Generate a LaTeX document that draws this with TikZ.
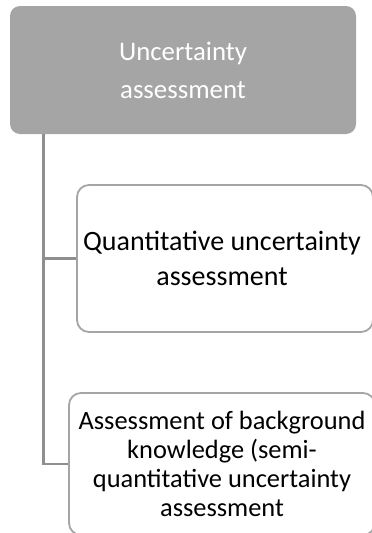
\documentclass[tikz,border=0pt]{standalone}
\usepackage{fontspec}
\setmainfont{Carlito}
\definecolor{boxgray}{HTML}{A5A5A5}
\definecolor{linegray}{HTML}{8F8F8F}
\begin{document}
\begin{tikzpicture}[x=1pt,y=-1pt,
  rootbox/.style={fill=boxgray, draw=none, rounded corners=10pt, text=white,
    align=center, inner sep=0pt},
  childbox/.style={fill=white, draw=boxgray, line width=1.8pt, rounded corners=12pt,
    text=black, align=center, inner sep=0pt},
  conn/.style={draw=linegray, line width=2.5pt}
]
\useasboundingbox (0,0) rectangle (372,533);
\clip (0,0) rectangle (372,533);

% parent item
\node[rootbox, minimum width=346pt, minimum height=128pt,
  font=\fontsize{26.8}{38}\selectfont] (root) at (183,70) {Uncertainty\\assessment};

% child items
\node[childbox, minimum width=296pt, minimum height=147pt,
  font=\fontsize{28}{35}\selectfont] (quant) at (225,258.5)
  {\hspace*{-6pt}Quantitative uncertainty\\\hspace*{-6pt}assessment};
\node[childbox, minimum width=306pt, minimum height=142pt,
  font=\fontsize{26.4}{29}\selectfont] (back) at (222,464)
  {Assessment of background\\knowledge (semi-\\quantitative uncertainty\\assessment};

% hierarchy connectors
\coordinate (spine) at (43.5,134);
\draw[conn] (spine) |- (back.west);
\draw[conn] (spine |- quant.west) -- (quant.west);
\end{tikzpicture}
\end{document}
